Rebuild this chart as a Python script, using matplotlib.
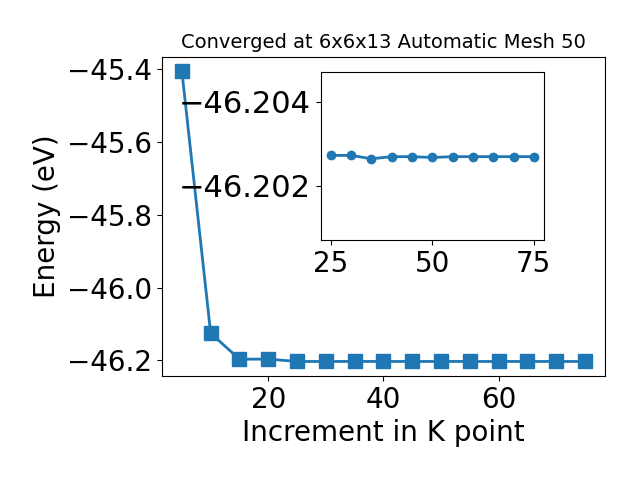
import numpy as np
from matplotlib import pyplot as plt

# k point increments and total energies
kpoints = [5, 10, 15, 20, 25, 30, 35, 40, 45, 50, 55, 60, 65, 70, 75]
energy = [-45.405, -46.125, -46.1965, -46.1962, -46.20272, -46.20272, -46.20264,
          -46.20269, -46.20269, -46.20267, -46.20269, -46.20269, -46.20269,
          -46.20269, -46.20269]

# converged part for the inset
inset_k = kpoints[4:]
inset_e = energy[4:]

fig = plt.figure(figsize=(6.4, 4.8), dpi=100)
ax = fig.add_axes([0.2527, 0.2167, 0.6927, 0.6652])
ax.plot(kpoints, energy, marker="s", markersize=10, linewidth=2)
ax.set_xlabel("Increment in K point", fontsize=20)
ax.set_ylabel("Energy (eV)", fontsize=20)
ax.set_title("Converged at 6x6x13 Automatic Mesh 50", fontsize=14)
ax.tick_params(labelsize=20)
ax.set_xticks([20, 40, 60])

#inset zoomed in on the flat region
ins = fig.add_axes([0.501, 0.5, 0.349, 0.349])
ins.plot(inset_k, inset_e, marker="o", markersize=6, linewidth=2)
ins.set_ylim(-46.2007, -46.2047)
ins.set_yticks([-46.202, -46.204])
ins.ticklabel_format(axis="y", useOffset=False)
ins.set_xticks([25, 50, 75])
ins.tick_params(axis="x", labelsize=20)
ins.tick_params(axis="y", labelsize=22)

plt.savefig("out.png")
